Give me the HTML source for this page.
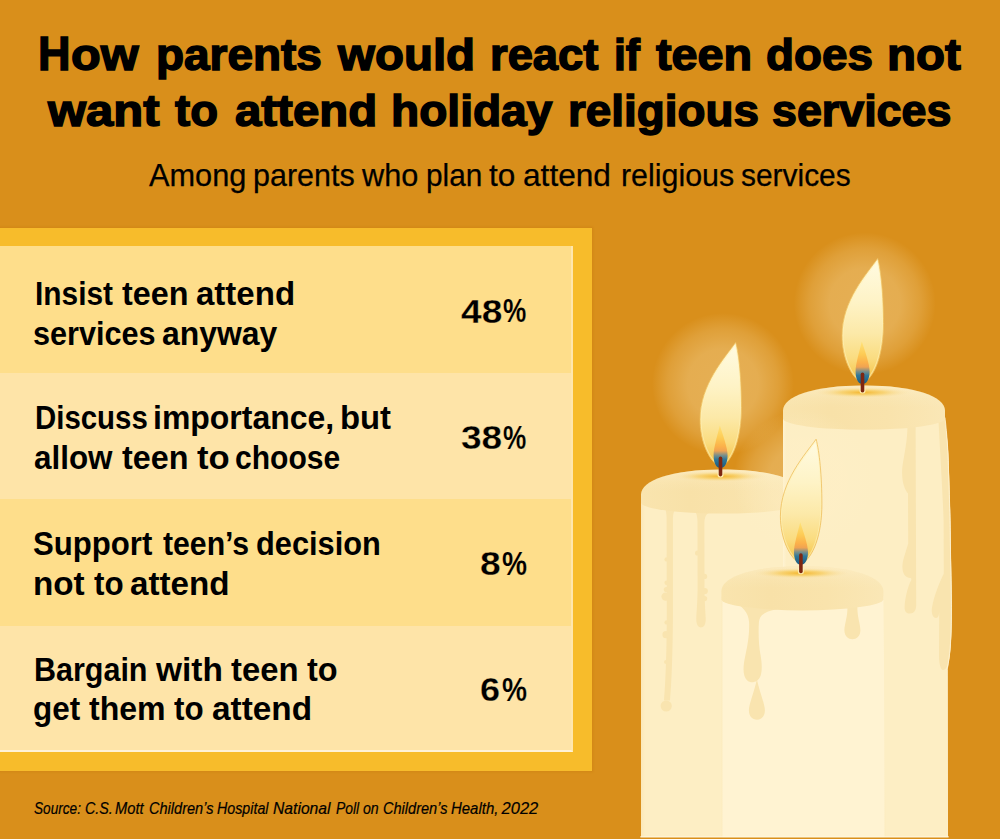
<!DOCTYPE html>
<html lang="en">
<head>
<meta charset="utf-8">
<title>How parents would react if teen does not want to attend holiday religious services</title>
<style>
  html, body { margin: 0; padding: 0; }
  body { width: 1000px; height: 839px; overflow: hidden; background: #D98F1B; font-family: "Liberation Sans", sans-serif; }
  #page { position: relative; width: 1000px; height: 839px; overflow: hidden; background: #D98F1B; }
  #panel { position: absolute; left: 0; top: 228px; width: 592px; height: 543px; background: #F7BC2B; box-shadow: 0 0 2px 1px rgba(190,110,10,0.28); }
  #table { position: absolute; left: 0; top: 246px; width: 573px; height: 506px; box-sizing: border-box; border-right: 2px solid #FFE7AE; border-bottom: 2px solid #FFF2D6; background: #FEE4A8; }
  .row { position: absolute; left: 0; width: 571px; }
  .r1 { top: 0; height: 126.5px; background: #FEDE8B; }
  .r2 { top: 126.5px; height: 126.5px; background: #FEE4A8; }
  .r3 { top: 253px; height: 126.7px; background: #FEDE8B; }
  .r4 { top: 379.7px; height: 124.3px; background: #FEE4A8; }
  .t { position: absolute; white-space: nowrap; line-height: 1; color: #000; transform-origin: 0 0; font-family: "Liberation Sans", sans-serif; }
  h1, p { margin: 0; padding: 0; font-size: inherit; font-weight: inherit; }
  svg { position: absolute; left: 0; top: 0; }
</style>
</head>
<body>
<div id="page">
  <div id="panel"></div>
  <div id="table">
    <div class="row r1"></div><div class="row r2"></div><div class="row r3"></div><div class="row r4"></div>
  </div>
<svg width="1000" height="839" viewBox="0 0 1000 839">
  <defs>
    <radialGradient id="glow" cx="0.5" cy="0.5" r="0.5">
      <stop offset="0" stop-color="#FFF0C8" stop-opacity="0.33"/>
      <stop offset="0.5" stop-color="#FFF0C8" stop-opacity="0.31"/>
      <stop offset="0.78" stop-color="#FFF0C8" stop-opacity="0.17"/>
      <stop offset="1" stop-color="#FFF0C8" stop-opacity="0"/>
    </radialGradient>
    <linearGradient id="flameOuter" x1="0" y1="0" x2="0" y2="1">
      <stop offset="0" stop-color="#FFFBE2"/>
      <stop offset="0.35" stop-color="#FEF3C6"/>
      <stop offset="0.6" stop-color="#FCE9A8"/>
      <stop offset="0.8" stop-color="#FADC80"/>
      <stop offset="0.92" stop-color="#F7CB58"/>
      <stop offset="1" stop-color="#F3B63A"/>
    </linearGradient>
    <linearGradient id="flameInner" x1="0" y1="0" x2="0" y2="1">
      <stop offset="0" stop-color="#FFE278"/>
      <stop offset="0.3" stop-color="#FDCB55"/>
      <stop offset="0.5" stop-color="#FBB04A"/>
      <stop offset="0.6" stop-color="#F0A352"/>
      <stop offset="0.7" stop-color="#7E8F88"/>
      <stop offset="0.8" stop-color="#2F7899"/>
      <stop offset="1" stop-color="#1B5A80"/>
    </linearGradient>
    <radialGradient id="topGlow" cx="0.5" cy="0.5" r="0.5">
      <stop offset="0" stop-color="#F3B62E" stop-opacity="1"/>
      <stop offset="0.45" stop-color="#F7CB5A" stop-opacity="0.7"/>
      <stop offset="1" stop-color="#F9E4AF" stop-opacity="0"/>
    </radialGradient>
    <linearGradient id="capShade" x1="0" y1="0" x2="0" y2="1">
      <stop offset="0" stop-color="#FFF3D2" stop-opacity="0.5"/>
      <stop offset="0.3" stop-color="#FFF3D2" stop-opacity="0.12"/>
      <stop offset="0.5" stop-color="#FFF3D2" stop-opacity="0"/>
    </linearGradient>
    <linearGradient id="capGrad" x1="0" y1="0" x2="1" y2="0">
      <stop offset="0" stop-color="#F9E4AE"/>
      <stop offset="0.3" stop-color="#F8E1A8"/>
      <stop offset="0.65" stop-color="#F9E3AC"/>
      <stop offset="1" stop-color="#FAE7B6"/>
    </linearGradient>
    <linearGradient id="bodyGrad" x1="0" y1="0" x2="1" y2="0">
      <stop offset="0" stop-color="#FBE8B8"/>
      <stop offset="0.025" stop-color="#FDEEC4"/>
      <stop offset="0.9" stop-color="#FDEEC4"/>
      <stop offset="1" stop-color="#FCEBBE"/>
    </linearGradient>
    <linearGradient id="bodyGradB" x1="0" y1="0" x2="1" y2="0">
      <stop offset="0" stop-color="#FFF3D2"/>
      <stop offset="0.02" stop-color="#FDEEC4"/>
      <stop offset="1" stop-color="#FDEEC4"/>
    </linearGradient>
    <linearGradient id="bodyGradC" x1="0" y1="0" x2="1" y2="0">
      <stop offset="0" stop-color="#FCEBBE"/>
      <stop offset="0.012" stop-color="#FFF3D2"/>
      <stop offset="0.988" stop-color="#FFF3D2"/>
      <stop offset="1" stop-color="#FCEBBE"/>
    </linearGradient>
    <clipPath id="flameClip"><path d="M94.7,-127 C84,-112 59,-85 59,-50 C59,-28 68,-8 79.5,-2 C92,-8 100.5,-32 100.5,-62 C100.5,-90 98,-115 94.7,-127 Z"/></clipPath>
    <g id="flame">
      <path d="M94.7,-127 C84,-112 59,-85 59,-50 C59,-28 68,-8 79.5,-2 C92,-8 100.5,-32 100.5,-62 C100.5,-90 98,-115 94.7,-127 Z" fill="url(#flameOuter)"/>
      <path d="M94.7,-127 C84,-112 59,-85 59,-50 C59,-28 68,-8 79.5,-2 C92,-8 100.5,-32 100.5,-62 C100.5,-90 98,-115 94.7,-127 Z" fill="none" stroke="#FFF3B8" stroke-width="3" stroke-opacity="0.55" clip-path="url(#flameClip)"/>
      <path d="M94.7,-127 C84,-112 59,-85 59,-50 C59,-28 68,-8 79.5,-2 C92,-8 100.5,-32 100.5,-62 C100.5,-90 98,-115 94.7,-127 Z" fill="none" stroke="#EDBE5C" stroke-width="0.8"/>
      <path d="M78.8,-44 C76.5,-34 72.6,-22 72.6,-14 C72.6,-6 75.5,-1.5 79.5,-1.5 C83.5,-1.5 86.6,-6 86.6,-14 C86.6,-22 82,-34 78.8,-44 Z" fill="url(#flameInner)"/>
      <rect x="76.5" y="0.5" width="6" height="7.5" rx="2.5" fill="#FFF2BC" opacity="0.85"/>
      <rect x="77.7" y="-13" width="3.6" height="20" rx="1.8" fill="#7E2711"/>
    </g>
    <g id="cap">
      <path d="M0,33 L0,25 C0,11 30,0 81,0 C132,0 162,11 162,25 L162,33 A81,11.2 0 0 1 0,33 Z" fill="url(#capGrad)"/>
      <path d="M0,33 L0,25 C0,11 30,0 81,0 C132,0 162,11 162,25 L162,33 A81,11.2 0 0 1 0,33 Z" fill="url(#capShade)"/>
      <ellipse cx="79.5" cy="7" rx="48" ry="5.4" fill="url(#topGlow)"/>
    </g>
  </defs>

  <!-- glows -->
  <circle cx="723" cy="384" r="71" fill="url(#glow)"/>
  <circle cx="864.8" cy="303.5" r="71" fill="url(#glow)"/>

  <!-- candle A (left, back) -->
  <g transform="translate(641,469.4)">
    <rect x="0" y="30" width="162" height="400" fill="url(#bodyGrad)"/>
    <g fill="#F9E4AF">
      <path d="M19,32 C23.5,35 25.4,40 25.6,48 L25.8,150 C25.6,185 24.5,215 23,231 L29,231 C30.5,215 31.7,185 31.9,150 L31.9,50 C32,42 34,38.5 39,37.5 L39,30 L19,30 Z"/>
      <circle cx="25.2" cy="236.6" r="5.6"/>
      <circle cx="25.6" cy="90" r="2.2"/><circle cx="25.6" cy="113.3" r="2.2"/><circle cx="25.4" cy="120.1" r="2.6"/>
      <circle cx="24.6" cy="127.2" r="4.2"/><circle cx="25.6" cy="153" r="2.2"/><circle cx="25" cy="165.3" r="3.6"/><circle cx="25" cy="192.6" r="2"/>
      <path d="M50,38 C54.5,40.5 56.4,45 56.5,52 L56.6,120 C56.4,135 55.3,145 55.3,150 C55.3,155 57.3,158 60,158 C62.7,158 64.7,155 64.7,150 C64.7,145 63.6,135 63.5,120 L63.4,54 C63.5,47 65.5,43.5 70,42.5 L70,34 L50,34 Z"/>
      <circle cx="56.6" cy="83.6" r="2.6"/><circle cx="63.6" cy="107" r="2.6"/><circle cx="63.8" cy="121.6" r="3.1"/><circle cx="63.6" cy="129.2" r="2.6"/>
    </g>
    <use href="#cap"/>
    <use href="#flame"/>
  </g>

  <!-- candle B (right, back) -->
  <g transform="translate(783,385.5)">
    <path d="M0,30 L161.5,30 C164,50 165.4,65 165.6,75 C166.5,100 167.4,130 167.6,145 C168,180 168.8,205 168.8,222 C168.8,245 168,262 166.5,272 C165.6,279 164.8,282 164.5,284 L164.8,460 L0,460 Z" fill="url(#bodyGradB)"/>
    <g fill="#F9E4AF">
      <path d="M124.5,40 C124.5,55 121,70 119.3,82 C118.5,92 120,102 125,108 L125.2,158 C123,166 119.6,174 119.4,181 C119.4,188 122,192 127.5,192.5 C129,193 128.5,195 127,197 C124,204 122,214 121.6,221 C121.4,226 123.5,228 127,228 C131,228 133.2,225 133.2,219 L132.6,40 Z"/>
      <path d="M155.5,36 C157.3,70 159.5,105 160.6,134.5 L160.8,188 C157,196 151,210 149,222 C148,228 150,232.5 153,232.5 C155.5,232.5 156,229 156.2,226 L156,270 C156,278 157.5,284.5 160,284.5 C163,284.5 165,280 166.5,272 C168,262 168.8,245 168.8,222 C168.8,205 168,180 167.6,145 C167.4,130 166.5,100 165.6,75 C165.4,65 164,50 161.5,30 Z"/>
    </g>
    <path d="M162,32 C164,50 165,65 165.2,75 C166.1,100 167,130 167.2,145 C167.6,180 168.4,205 168.4,222 C168.4,245 167.6,262 166.1,272 C165.2,279 164.5,282 164.3,284 L164.5,452" fill="none" stroke="#FFF4D4" stroke-width="1" opacity="0.8"/>
    <use href="#cap"/>
    <use href="#flame"/>
  </g>

  <circle cx="804" cy="481" r="71" fill="url(#glow)"/>
  <!-- candle C (front) -->
  <g transform="translate(721.4,566.2)">
    <path d="M0,30 L162,30 L164.2,275 L0.1,275 Z" fill="url(#bodyGradC)"/>
    <g fill="#F9E4AF">
      <path d="M13.4,36 C20,40 27,45 27.7,56 C28.2,68 26,80 24.2,88 C22,98 21.5,105 23,109.5 C24.5,114 27.5,116 30.5,116 C34,116 37.5,114 39.2,109.5 C41,104 40.5,96 39,88 C37.5,80 36.8,68 37.5,56 C38,49 44,44.5 56,43 L56,30 L13.4,30 Z"/>
      <path d="M35.5,113 C33,125 27.5,138 27.5,144 C27.5,150 31,153.5 35.5,153.5 C40,153.5 43.5,150 43.5,144 C43.5,138 38,125 35.5,113 Z"/>
      <path d="M126,40 C126.5,50 123,58 123,64 C123,70 127,73 131,73 C135,73 139,70 139,64 C139,58 135.5,50 136,39 Z"/>
    </g>
    <use href="#cap"/>
    <use href="#flame"/>
  </g>
  <rect x="640" y="836.4" width="309" height="1.2" fill="#FFF8E2" opacity="0.9"/>
  <rect x="630" y="837.5" width="330" height="2" fill="#D98F1B"/>
</svg>

<h1>
<span class="t" style="left:38.16px;top:29.27px;font-weight:bold;font-style:normal;font-size:49px;-webkit-text-stroke:1.5px #000;transform:scaleX(0.9194)">H</span><span class="t" style="left:71.41px;top:33.22px;font-weight:bold;font-style:normal;font-size:44.5px;-webkit-text-stroke:1.5px #000;transform:scaleX(1.0935)">ow</span>
<span class="t" style="left:155.87px;top:33.22px;font-weight:bold;font-style:normal;font-size:44.5px;-webkit-text-stroke:1.5px #000;transform:scaleX(1.0321)">parents</span>
<span class="t" style="left:337.57px;top:33.22px;font-weight:bold;font-style:normal;font-size:44.5px;-webkit-text-stroke:1.5px #000;transform:scaleX(1.0664)">would</span>
<span class="t" style="left:489.76px;top:33.22px;font-weight:bold;font-style:normal;font-size:44.5px;-webkit-text-stroke:1.5px #000;transform:scaleX(1.0190)">react</span>
<span class="t" style="left:614.09px;top:33.22px;font-weight:bold;font-style:normal;font-size:44.5px;-webkit-text-stroke:1.5px #000;transform:scaleX(0.9556)">if</span>
<span class="t" style="left:655.95px;top:33.22px;font-weight:bold;font-style:normal;font-size:44.5px;-webkit-text-stroke:1.5px #000;transform:scaleX(1.0505)">teen</span>
<span class="t" style="left:766.47px;top:33.22px;font-weight:bold;font-style:normal;font-size:44.5px;-webkit-text-stroke:1.5px #000;transform:scaleX(1.0294)">does</span>
<span class="t" style="left:887.37px;top:33.22px;font-weight:bold;font-style:normal;font-size:44.5px;-webkit-text-stroke:1.5px #000;transform:scaleX(1.0662)">not</span>
<span class="t" style="left:48.10px;top:89.22px;font-weight:bold;font-style:normal;font-size:44.5px;-webkit-text-stroke:1.5px #000;transform:scaleX(1.1010)">want</span>
<span class="t" style="left:174.92px;top:89.22px;font-weight:bold;font-style:normal;font-size:44.5px;-webkit-text-stroke:1.5px #000;transform:scaleX(1.0233)">to</span>
<span class="t" style="left:234.90px;top:89.22px;font-weight:bold;font-style:normal;font-size:44.5px;-webkit-text-stroke:1.5px #000;transform:scaleX(1.0644)">attend</span>
<span class="t" style="left:391.33px;top:89.22px;font-weight:bold;font-style:normal;font-size:44.5px;-webkit-text-stroke:1.5px #000;transform:scaleX(1.0361)">holiday</span>
<span class="t" style="left:567.94px;top:89.22px;font-weight:bold;font-style:normal;font-size:44.5px;-webkit-text-stroke:1.5px #000;transform:scaleX(1.0295)">religious</span>
<span class="t" style="left:772.39px;top:89.22px;font-weight:bold;font-style:normal;font-size:44.5px;-webkit-text-stroke:1.5px #000;transform:scaleX(1.0062)">services</span>
</h1>
<p>
<span class="t" style="left:149.00px;top:159.35px;font-weight:normal;font-style:normal;font-size:32px;-webkit-text-stroke:0.25px #000;transform:scaleX(0.9600)">Among</span>
<span class="t" style="left:252.65px;top:159.35px;font-weight:normal;font-style:normal;font-size:32px;-webkit-text-stroke:0.25px #000;transform:scaleX(0.9524)">parents</span>
<span class="t" style="left:362.00px;top:159.35px;font-weight:normal;font-style:normal;font-size:32px;-webkit-text-stroke:0.25px #000;transform:scaleX(0.9586)">who</span>
<span class="t" style="left:426.07px;top:159.35px;font-weight:normal;font-style:normal;font-size:32px;-webkit-text-stroke:0.25px #000;transform:scaleX(0.9310)">plan</span>
<span class="t" style="left:489.00px;top:159.35px;font-weight:normal;font-style:normal;font-size:32px;-webkit-text-stroke:0.25px #000;transform:scaleX(0.9846)">to</span>
<span class="t" style="left:523.01px;top:159.35px;font-weight:normal;font-style:normal;font-size:32px;-webkit-text-stroke:0.25px #000;transform:scaleX(0.9885)">attend</span>
<span class="t" style="left:621.05px;top:159.35px;font-weight:normal;font-style:normal;font-size:32px;-webkit-text-stroke:0.25px #000;transform:scaleX(0.9492)">religious</span>
<span class="t" style="left:740.67px;top:159.35px;font-weight:normal;font-style:normal;font-size:32px;-webkit-text-stroke:0.25px #000;transform:scaleX(0.9345)">services</span>
</p>
<div>
<span class="t" style="left:35.11px;top:277.20px;font-weight:bold;font-style:normal;font-size:33.5px;transform:scaleX(0.8920)">Insist</span>
<span class="t" style="left:122.40px;top:277.20px;font-weight:bold;font-style:normal;font-size:33.5px;transform:scaleX(0.9647)">teen</span>
<span class="t" style="left:196.41px;top:277.20px;font-weight:bold;font-style:normal;font-size:33.5px;transform:scaleX(0.9857)">attend</span>
<span class="t" style="left:33.09px;top:317.00px;font-weight:bold;font-style:normal;font-size:33.5px;transform:scaleX(0.9136)">services</span>
<span class="t" style="left:162.05px;top:317.00px;font-weight:bold;font-style:normal;font-size:33.5px;transform:scaleX(0.9517)">anyway</span>
<span class="t" style="left:34.52px;top:400.50px;font-weight:bold;font-style:normal;font-size:33.5px;transform:scaleX(0.8778)">Discuss</span>
<span class="t" style="left:153.09px;top:400.50px;font-weight:bold;font-style:normal;font-size:33.5px;transform:scaleX(0.9538)">importance,</span>
<span class="t" style="left:340.04px;top:400.50px;font-weight:bold;font-style:normal;font-size:33.5px;transform:scaleX(0.9800)">but</span>
<span class="t" style="left:33.66px;top:440.80px;font-weight:bold;font-style:normal;font-size:33.5px;transform:scaleX(0.9373)">allow</span>
<span class="t" style="left:122.40px;top:440.80px;font-weight:bold;font-style:normal;font-size:33.5px;transform:scaleX(0.9647)">teen</span>
<span class="t" style="left:197.00px;top:440.80px;font-weight:bold;font-style:normal;font-size:33.5px;transform:scaleX(1.0323)">to</span>
<span class="t" style="left:235.10px;top:440.80px;font-weight:bold;font-style:normal;font-size:33.5px;transform:scaleX(0.8966)">choose</span>
<span class="t" style="left:33.07px;top:526.90px;font-weight:bold;font-style:normal;font-size:33.5px;transform:scaleX(0.9297)">Support</span>
<span class="t" style="left:163.00px;top:526.90px;font-weight:bold;font-style:normal;font-size:33.5px;transform:scaleX(0.9011)">teen’s</span>
<span class="t" style="left:256.08px;top:526.90px;font-weight:bold;font-style:normal;font-size:33.5px;transform:scaleX(0.9179)">decision</span>
<span class="t" style="left:33.42px;top:567.00px;font-weight:bold;font-style:normal;font-size:33.5px;transform:scaleX(0.9920)">not</span>
<span class="t" style="left:94.00px;top:567.00px;font-weight:bold;font-style:normal;font-size:33.5px;transform:scaleX(0.9355)">to</span>
<span class="t" style="left:130.01px;top:567.00px;font-weight:bold;font-style:normal;font-size:33.5px;transform:scaleX(0.9898)">attend</span>
<span class="t" style="left:34.49px;top:652.90px;font-weight:bold;font-style:normal;font-size:33.5px;transform:scaleX(0.9098)">Bargain</span>
<span class="t" style="left:156.00px;top:652.90px;font-weight:bold;font-style:normal;font-size:33.5px;transform:scaleX(0.9970)">with</span>
<span class="t" style="left:231.00px;top:652.90px;font-weight:bold;font-style:normal;font-size:33.5px;transform:scaleX(0.9794)">teen</span>
<span class="t" style="left:307.00px;top:652.90px;font-weight:bold;font-style:normal;font-size:33.5px;transform:scaleX(0.9677)">to</span>
<span class="t" style="left:33.06px;top:692.00px;font-weight:bold;font-style:normal;font-size:33.5px;transform:scaleX(0.9388)">get</span>
<span class="t" style="left:89.40px;top:692.00px;font-weight:bold;font-style:normal;font-size:33.5px;transform:scaleX(0.9570)">them</span>
<span class="t" style="left:174.00px;top:692.00px;font-weight:bold;font-style:normal;font-size:33.5px;transform:scaleX(0.9355)">to</span>
<span class="t" style="left:211.51px;top:692.00px;font-weight:bold;font-style:normal;font-size:33.5px;transform:scaleX(0.9949)">attend</span>
</div>
<div>
<span class="t" style="left:460.80px;top:293.61px;font-weight:bold;font-style:normal;font-size:34px;-webkit-text-stroke:0.3px #FEDE8B;transform:scaleX(1.0919)">48</span><span class="t" style="left:503.30px;top:293.30px;font-weight:bold;font-style:normal;font-size:34px;-webkit-text-stroke:0.15px #FEDE8B;transform:scaleX(0.7700)">%</span>
<span class="t" style="left:460.91px;top:419.81px;font-weight:bold;font-style:normal;font-size:34px;-webkit-text-stroke:0.3px #FEE4A8;transform:scaleX(1.0889)">38</span><span class="t" style="left:503.30px;top:419.50px;font-weight:bold;font-style:normal;font-size:34px;-webkit-text-stroke:0.15px #FEE4A8;transform:scaleX(0.7700)">%</span>
<span class="t" style="left:479.71px;top:546.11px;font-weight:bold;font-style:normal;font-size:34px;-webkit-text-stroke:0.3px #FEDE8B;transform:scaleX(1.0941)">8</span><span class="t" style="left:501.60px;top:545.80px;font-weight:bold;font-style:normal;font-size:34px;-webkit-text-stroke:0.15px #FEDE8B;transform:scaleX(0.8267)">%</span>
<span class="t" style="left:480.34px;top:672.21px;font-weight:bold;font-style:normal;font-size:34px;-webkit-text-stroke:0.3px #FEE4A8;transform:scaleX(1.0588)">6</span><span class="t" style="left:501.60px;top:671.90px;font-weight:bold;font-style:normal;font-size:34px;-webkit-text-stroke:0.15px #FEE4A8;transform:scaleX(0.8267)">%</span>
</div>
<p>
<span class="t" style="left:34.00px;top:799.80px;font-weight:normal;font-style:italic;font-size:16.5px;-webkit-text-stroke:0.2px #000;transform:scaleX(0.8250)">Source:</span>
<span class="t" style="left:85.00px;top:799.80px;font-weight:normal;font-style:italic;font-size:16.5px;-webkit-text-stroke:0.2px #000;transform:scaleX(0.8667)">C.S.</span>
<span class="t" style="left:115.20px;top:799.80px;font-weight:normal;font-style:italic;font-size:16.5px;-webkit-text-stroke:0.2px #000;transform:scaleX(0.8909)">Mott</span>
<span class="t" style="left:148.80px;top:799.80px;font-weight:normal;font-style:italic;font-size:16.5px;-webkit-text-stroke:0.2px #000;transform:scaleX(0.8822)">Children’s</span>
<span class="t" style="left:217.40px;top:799.80px;font-weight:normal;font-style:italic;font-size:16.5px;-webkit-text-stroke:0.2px #000;transform:scaleX(0.8633)">Hospital</span>
<span class="t" style="left:273.40px;top:799.80px;font-weight:normal;font-style:italic;font-size:16.5px;-webkit-text-stroke:0.2px #000;transform:scaleX(0.9508)">National</span>
<span class="t" style="left:335.80px;top:799.80px;font-weight:normal;font-style:italic;font-size:16.5px;-webkit-text-stroke:0.2px #000;transform:scaleX(0.8429)">Poll</span>
<span class="t" style="left:363.00px;top:799.80px;font-weight:normal;font-style:italic;font-size:16.5px;-webkit-text-stroke:0.2px #000;transform:scaleX(0.8556)">on</span>
<span class="t" style="left:382.60px;top:799.80px;font-weight:normal;font-style:italic;font-size:16.5px;-webkit-text-stroke:0.2px #000;transform:scaleX(0.8822)">Children’s</span>
<span class="t" style="left:451.20px;top:799.80px;font-weight:normal;font-style:italic;font-size:16.5px;-webkit-text-stroke:0.2px #000;transform:scaleX(0.9059)">Health,</span>
<span class="t" style="left:501.60px;top:799.80px;font-weight:normal;font-style:italic;font-size:16.5px;-webkit-text-stroke:0.2px #000;transform:scaleX(1.0000)">2022</span>
</p>
</div>
</body>
</html>
